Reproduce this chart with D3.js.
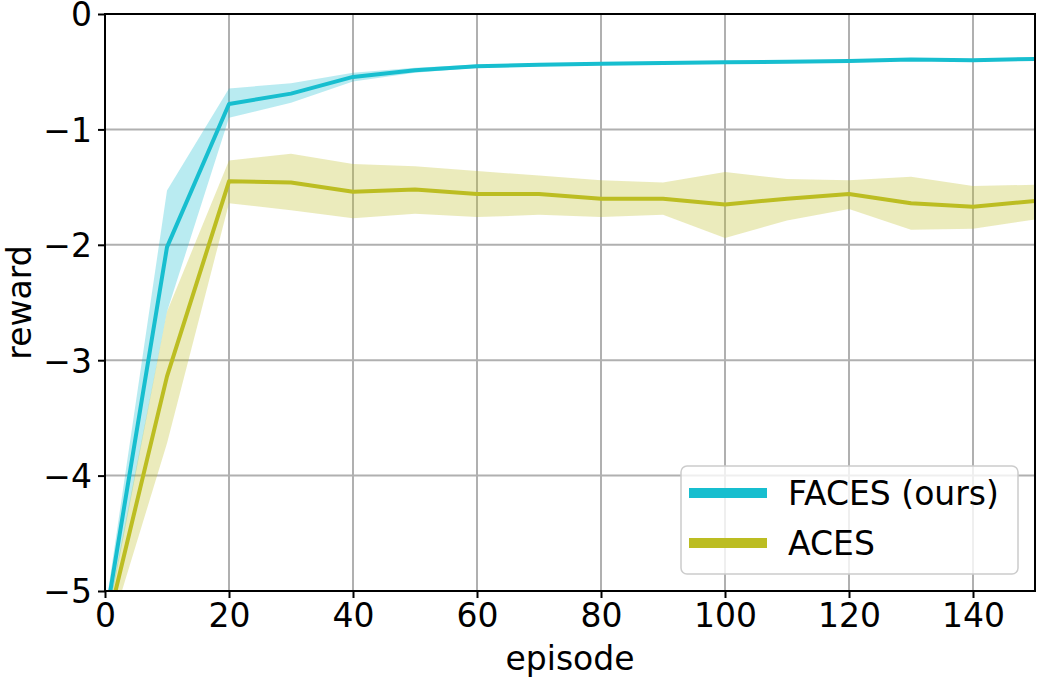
<!DOCTYPE html>
<html>
<head>
<meta charset="utf-8">
<script src="https://cdn.jsdelivr.net/npm/d3@7"></script>
<style>
  body { margin: 0; background: #fff; }
  svg text { font-family: "DejaVu Sans", sans-serif; fill: #000; }
</style>
</head>
<body>
<svg width="1038" height="680"></svg>
<script>
// episodes sampled every 10
var episodes = [0, 10, 20, 30, 40, 50, 60, 70, 80, 90, 100, 110, 120, 130, 140, 150];

var faces   = [-5.28, -2.02, -0.78, -0.69, -0.545, -0.487, -0.452, -0.44, -0.432, -0.425, -0.419, -0.413, -0.408, -0.395, -0.40, -0.39];
var facesLo = [-5.36, -2.58, -0.90, -0.77, -0.585, -0.51, -0.466, -0.452, -0.443, -0.436, -0.43, -0.424, -0.419, -0.406, -0.411, -0.401];
var facesHi = [-5.18, -1.53, -0.645, -0.60, -0.51, -0.465, -0.438, -0.428, -0.421, -0.414, -0.408, -0.402, -0.397, -0.384, -0.389, -0.379];

var aces   = [-5.38, -3.14, -1.45, -1.46, -1.54, -1.52, -1.56, -1.56, -1.60, -1.60, -1.65, -1.60, -1.56, -1.64, -1.67, -1.62];
var acesLo = [-5.48, -3.72, -1.64, -1.70, -1.77, -1.73, -1.76, -1.74, -1.76, -1.74, -1.94, -1.79, -1.69, -1.87, -1.86, -1.78];
var acesHi = [-5.31, -2.58, -1.27, -1.21, -1.30, -1.32, -1.36, -1.40, -1.44, -1.46, -1.37, -1.43, -1.44, -1.41, -1.49, -1.48];

var xTicks = [0, 20, 40, 60, 80, 100, 120, 140];
var yTicks = [0, -1, -2, -3, -4, -5];

var series = [
  { name: 'FACES (ours)', color: '#17becf', mean: faces, lo: facesLo, hi: facesHi },
  { name: 'ACES', color: '#bcbd22', mean: aces, lo: acesLo, hi: acesHi }
];

var svg = d3.select('svg');
var plotL = 105, plotR = 1035, plotT = 14, plotB = 591;
var fontSize = '33px';

var x = d3.scaleLinear().domain([0, 150]).range([plotL, plotR]);
var y = d3.scaleLinear().domain([-5, 0]).range([plotB, plotT]);

svg.append('defs').append('clipPath').attr('id', 'plot')
  .append('rect')
  .attr('x', plotL).attr('y', plotT)
  .attr('width', plotR - plotL).attr('height', plotB - plotT);

// grid
var grid = svg.append('g').attr('stroke', '#b0b0b0').attr('stroke-width', 2);
grid.selectAll('.gx').data(xTicks).enter().append('line')
  .attr('x1', function(d) { return x(d); }).attr('x2', function(d) { return x(d); })
  .attr('y1', plotT).attr('y2', plotB);
grid.selectAll('.gy').data(yTicks).enter().append('line')
  .attr('y1', function(d) { return y(d); }).attr('y2', function(d) { return y(d); })
  .attr('x1', plotL).attr('x2', plotR);

var plot = svg.append('g').attr('clip-path', 'url(#plot)');

series.forEach(function(s) {
  var area = d3.area()
    .x(function(d, i) { return x(episodes[i]); })
    .y0(function(d, i) { return y(s.lo[i]); })
    .y1(function(d, i) { return y(s.hi[i]); });
  plot.append('path')
    .datum(s.mean)
    .attr('d', area)
    .attr('fill', s.color)
    .attr('fill-opacity', 0.3);
});

series.forEach(function(s) {
  var line = d3.line()
    .x(function(d, i) { return x(episodes[i]); })
    .y(function(d) { return y(d); });
  plot.append('path')
    .datum(s.mean)
    .attr('d', line)
    .attr('fill', 'none')
    .attr('stroke', s.color)
    .attr('stroke-width', 4)
    .attr('stroke-linejoin', 'round');
});

// axes
var xAxis = d3.axisBottom(x).tickValues(xTicks).tickSize(7).tickPadding(6)
  .tickFormat(d3.format('d'));
var yAxis = d3.axisLeft(y).tickValues(yTicks).tickSize(7).tickPadding(6)
  .tickFormat(function(d) { return d < 0 ? '\u2212' + Math.abs(d) : d; });

var gx = svg.append('g').attr('transform', 'translate(0,' + plotB + ')').call(xAxis);
var gy = svg.append('g').attr('transform', 'translate(' + plotL + ',0)').call(yAxis);

[gx, gy].forEach(function(g) {
  g.select('.domain').remove();
  g.selectAll('.tick line').attr('stroke', '#000').attr('stroke-width', 2);
  g.selectAll('text').style('font-size', fontSize).style('font-family', '"DejaVu Sans", sans-serif').attr('fill', '#000');
});
gy.selectAll('text').attr('dy', '0.36em');

// frame
svg.append('rect')
  .attr('x', plotL).attr('y', plotT)
  .attr('width', plotR - plotL).attr('height', plotB - plotT)
  .attr('fill', 'none').attr('stroke', '#000').attr('stroke-width', 2);

svg.append('text')
  .attr('x', (plotL + plotR) / 2).attr('y', 670)
  .attr('text-anchor', 'middle')
  .style('font-size', fontSize)
  .text('episode');

svg.append('text')
  .attr('transform', 'translate(31,' + ((plotT + plotB) / 2) + ') rotate(-90)')
  .attr('text-anchor', 'middle')
  .style('font-size', fontSize)
  .text('reward');

// legend
var legend = svg.append('g').attr('transform', 'translate(681,466)');
legend.append('rect')
  .attr('width', 337).attr('height', 108)
  .attr('rx', 6).attr('ry', 6)
  .attr('fill', '#fff').attr('fill-opacity', 0.8)
  .attr('stroke', '#cccccc').attr('stroke-width', 1.5);

var items = legend.selectAll('.item').data(series).enter().append('g')
  .attr('transform', function(d, i) { return 'translate(0,' + (27 + i * 50) + ')'; });
items.append('line')
  .attr('x1', 8).attr('x2', 86)
  .attr('stroke', function(d) { return d.color; })
  .attr('stroke-width', 10);
items.append('text')
  .attr('x', 107).attr('dy', '0.36em')
  .style('font-size', fontSize)
  .text(function(d) { return d.name; });
</script>
</body>
</html>
